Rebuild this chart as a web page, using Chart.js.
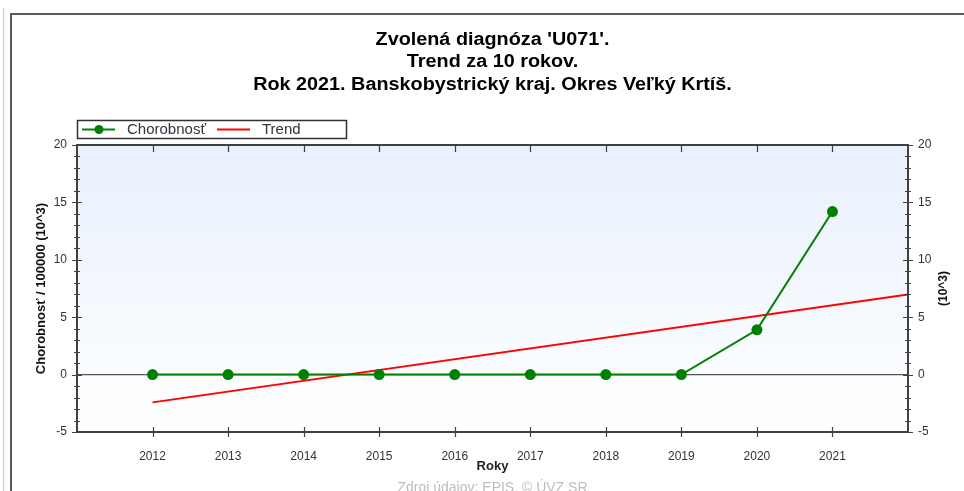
<!DOCTYPE html>
<html>
<head>
<meta charset="utf-8">
<script src="https://cdn.jsdelivr.net/npm/chart.js@4/dist/chart.umd.min.js"></script>
<style>
  html, body { margin: 0; padding: 0; background: #fff; }
  #wrap { width: 964px; height: 491px; position: relative; }
</style>
</head>
<body>
<div id="wrap"><canvas id="trendChart" width="964" height="491"></canvas></div>
<script>
// data
const years = [2012, 2013, 2014, 2015, 2016, 2017, 2018, 2019, 2020, 2021];
const chorobnost = [0, 0, 0, 0, 0, 0, 0, 0, 3.9, 14.2];
const trendYears = [2012, 2022];
const trendValues = [-2.42, 6.98];
const yTicks = [-5, 0, 5, 10, 15, 20];

const titleLines = [
  "Zvolená diagnóza 'U071'.",
  'Trend za 10 rokov.',
  'Rok 2021. Banskobystrický kraj. Okres Veľký Krtíš.'
];
const rightTitle = '(10^3)';
const sourceText = 'Zdroj údajov: EPIS, © ÚVZ SR';

const FONT = '"Liberation Sans", Arial, sans-serif';
const AXIS = '#404040';

// background gradient, frame, titles, legend, custom ticks
const decor = {
  id: 'decor',
  beforeDatasetsDraw(chart) {
    const { ctx, chartArea: a } = chart;
    ctx.save();
    const g = ctx.createLinearGradient(0, a.top, 0, a.bottom);
    g.addColorStop(0, '#e8f0fc');
    g.addColorStop(1, '#ffffff');
    ctx.fillStyle = g;
    ctx.fillRect(a.left, a.top, a.right - a.left, a.bottom - a.top);

    // zero line
    const y0 = chart.scales.y.getPixelForValue(0);
    ctx.strokeStyle = '#555';
    ctx.lineWidth = 1.2;
    ctx.beginPath();
    ctx.moveTo(a.left, y0);
    ctx.lineTo(a.right, y0);
    ctx.stroke();
    ctx.restore();
  },
  afterDraw(chart) {
    const { ctx, chartArea: a } = chart;
    const ys = chart.scales.y, xs = chart.scales.x;
    ctx.save();

    // outer frame
    ctx.strokeStyle = '#c9d9e1';
    ctx.lineWidth = 1.5;
    ctx.beginPath();
    ctx.moveTo(3.5, 8);
    ctx.lineTo(3.5, 491);
    ctx.stroke();
    ctx.strokeStyle = '#5a5a5a';
    ctx.lineWidth = 2;
    ctx.beginPath();
    ctx.moveTo(11, 491);
    ctx.lineTo(11, 14);
    ctx.lineTo(964, 14);
    ctx.stroke();

    // plot border
    ctx.strokeStyle = AXIS;
    ctx.lineWidth = 2;
    ctx.strokeRect(a.left, a.top, a.right - a.left, a.bottom - a.top);

    // y ticks (major + minor), both sides
    ctx.lineWidth = 1.2;
    ctx.beginPath();
    for (let v = -5; v <= 20; v++) {
      const py = Math.round(ys.getPixelForValue(v)) + 0.5;
      const len = v % 5 === 0 ? 5 : 3;
      ctx.moveTo(a.left - len, py); ctx.lineTo(a.left + len, py);
      ctx.moveTo(a.right - len, py); ctx.lineTo(a.right + len, py);
    }
    // x ticks
    years.forEach(yr => {
      const px = Math.round(xs.getPixelForValue(yr)) + 0.5;
      ctx.moveTo(px, a.bottom - 5); ctx.lineTo(px, a.bottom + 5);
      ctx.moveTo(px, a.top); ctx.lineTo(px, a.top + 7);
    });
    ctx.stroke();

    // titles (slightly stretched wide like the original)
    const cx = (a.left + a.right) / 2;
    ctx.save();
    ctx.translate(cx, 0);
    ctx.scale(1.1, 1);
    ctx.fillStyle = '#000';
    ctx.textAlign = 'center';
    ctx.textBaseline = 'middle';
    ctx.font = 'bold 18px ' + FONT;
    titleLines.forEach((t, i) => ctx.fillText(t, 0, 40 + i * 22.5));
    ctx.restore();

    ctx.textAlign = 'center';
    ctx.textBaseline = 'middle';

    // right axis title, reading bottom to top
    ctx.save();
    ctx.translate(944, (a.top + a.bottom) / 2);
    ctx.rotate(-Math.PI / 2);
    ctx.font = 'bold 12px ' + FONT;
    ctx.fillStyle = '#111';
    ctx.fillText(rightTitle, 0, 0);
    ctx.restore();

    // legend
    ctx.fillStyle = '#fff';
    ctx.fillRect(77, 120, 270, 18);
    ctx.strokeStyle = '#333';
    ctx.lineWidth = 1.5;
    ctx.strokeRect(77.5, 120.5, 269, 18);
    ctx.lineWidth = 2;
    ctx.strokeStyle = '#008000';
    ctx.beginPath(); ctx.moveTo(82, 129.5); ctx.lineTo(115, 129.5); ctx.stroke();
    ctx.fillStyle = '#008000';
    ctx.beginPath(); ctx.arc(99, 129.5, 4.5, 0, Math.PI * 2); ctx.fill();
    ctx.strokeStyle = '#ff0000';
    ctx.beginPath(); ctx.moveTo(217, 129.5); ctx.lineTo(250, 129.5); ctx.stroke();
    ctx.fillStyle = '#2e3440';
    ctx.font = '15px ' + FONT;
    ctx.textAlign = 'left';
    ctx.fillText(chart.data.datasets[0].label, 127, 130);
    ctx.fillText(chart.data.datasets[1].label, 262, 130);

    // source
    ctx.fillStyle = '#bdbdbd';
    ctx.textAlign = 'center';
    ctx.font = '14px ' + FONT;
    ctx.fillText(sourceText, cx, 488);
    ctx.restore();
  }
};

const tickFont = { family: FONT, size: 12 };
const titleFont = { family: FONT, size: 13, weight: 'bold' };

new Chart(document.getElementById('trendChart'), {
  type: 'line',
  data: {
    datasets: [
      {
        label: 'Chorobnosť',
        data: years.map((yr, i) => ({ x: yr, y: chorobnost[i] })),
        borderColor: '#008000',
        backgroundColor: '#008000',
        borderWidth: 2,
        pointRadius: 5.5,
        pointBorderWidth: 0,
        tension: 0
      },
      {
        label: 'Trend',
        data: trendYears.map((yr, i) => ({ x: yr, y: trendValues[i] })),
        borderColor: '#ff0000',
        borderWidth: 2,
        pointRadius: 0,
        tension: 0
      }
    ]
  },
  options: {
    responsive: false,
    animation: false,
    layout: { padding: { top: 145, left: 30, right: 8, bottom: 13 } },
    plugins: { legend: { display: false }, tooltip: { enabled: false } },
    scales: {
      x: {
        type: 'linear',
        position: 'bottom',
        min: 2011,
        max: 2022,
        afterBuildTicks: s => { s.ticks = years.map(v => ({ value: v })); },
        afterFit: s => { s.height = 46; },
        grid: { display: false },
        border: { display: false },
        ticks: { font: tickFont, color: '#333', padding: 9, maxRotation: 0, callback: v => String(v) },
        title: { display: true, text: 'Roky', font: { family: FONT, size: 13, weight: 'bold' }, color: '#222' }
      },
      y: {
        position: 'left',
        min: -5,
        max: 20,
        afterBuildTicks: s => { s.ticks = yTicks.map(v => ({ value: v })); },
        afterFit: s => { s.width = 47; },
        grid: { display: false, drawTicks: false },
        border: { display: false },
        ticks: { font: tickFont, color: '#333', padding: 10, callback: v => String(v) },
        title: { display: true, text: 'Chorobnosť / 100000 (10^3)', font: titleFont, color: '#111' }
      },
      y2: {
        position: 'right',
        min: -5,
        max: 20,
        afterBuildTicks: s => { s.ticks = yTicks.map(v => ({ value: v })); },
        afterFit: s => { s.width = 48; },
        grid: { display: false, drawTicks: false },
        border: { display: false },
        ticks: { font: tickFont, color: '#333', padding: 10, callback: v => String(v) }
      }
    }
  },
  plugins: [decor]
});
</script>
</body>
</html>
